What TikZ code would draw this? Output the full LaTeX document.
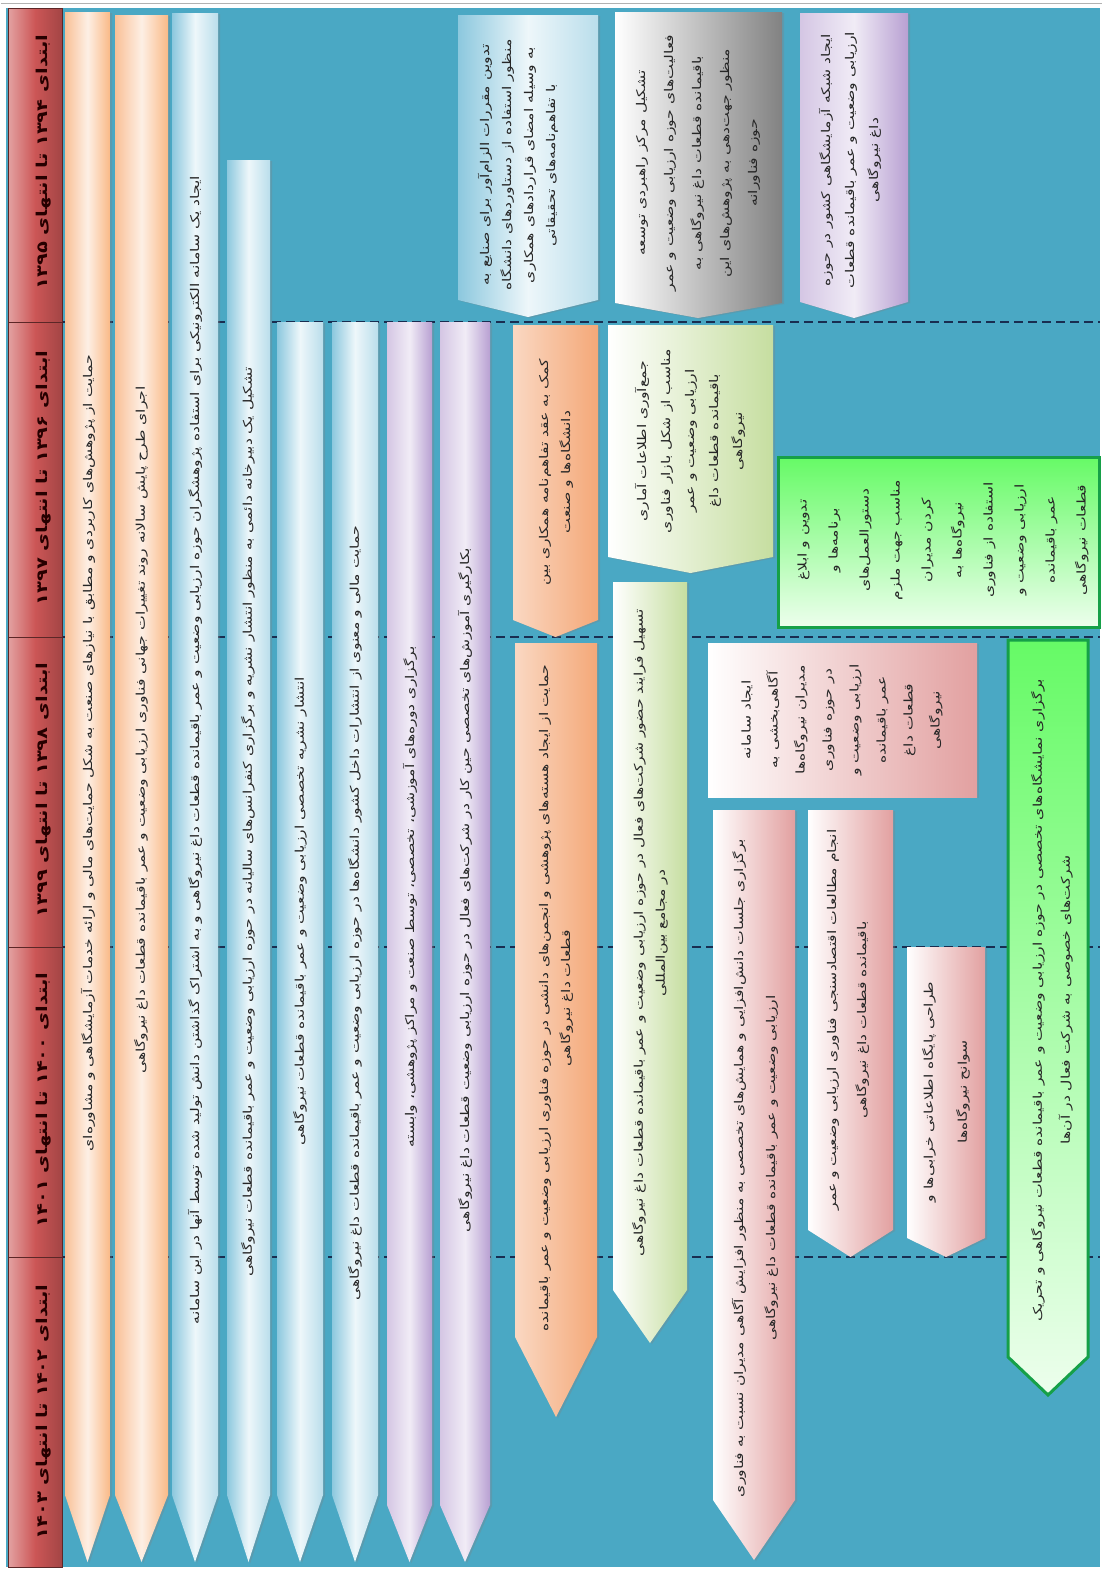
\documentclass[tikz,border=0pt]{standalone}
\usepackage{fontspec}
\usetikzlibrary{shadows}
\newfontfamily\farsi[Script=Arabic,FakeStretch=1.3]{DejaVu Sans}
\TeXXeTstate=1
\newcommand{\fa}[1]{\beginR #1\endR}
\definecolor{bgteal}{RGB}{74,168,196}
\definecolor{hdrred}{RGB}{204,86,86}
\definecolor{peach}{RGB}{249,192,150}
\definecolor{skyb}{RGB}{140,200,222}
\definecolor{lilac}{RGB}{184,160,210}
\definecolor{orng}{RGB}{244,168,120}
\definecolor{pgreen}{RGB}{198,222,160}
\definecolor{pinkr}{RGB}{226,160,160}
\definecolor{lime}{RGB}{102,250,102}
\definecolor{dgreen}{RGB}{22,160,72}
\definecolor{grayb}{RGB}{130,130,130}
\definecolor{dashc}{RGB}{25,45,80}

\begin{document}
\begin{tikzpicture}[x=1pt,y=-1pt,
  lbl/.style={rotate=90,align=center,inner sep=0pt,text=black!85,font=\farsi\fontsize{12}{#1}\selectfont},
  lbl/.default=22,
  hlbl/.style={rotate=90,inner sep=0pt,text=black!85!red,font=\farsi\bfseries\fontsize{15}{18}\selectfont},
  hdr/.style={draw=hdrred!45!black,left color=hdrred!55!white,right color=hdrred!80!black,middle color=hdrred},
  bar/.style={drop shadow={shadow xshift=2pt,shadow yshift=-1pt,opacity=0.3}},
  peachbar/.style={bar,left color=peach,right color=peach!90!orange,middle color=peach!25!white},
  bluebar/.style={bar,left color=skyb,right color=skyb!60!white,middle color=skyb!15!white},
  lilacbar/.style={bar,left color=lilac!60!white,right color=lilac,middle color=lilac!20!white},
  orangebar/.style={bar,left color=orng!45!white,right color=orng},
  greenbar/.style={bar,left color=white,right color=pgreen},
  pinkbar/.style={bar,left color=white,right color=pinkr},
  graybar/.style={bar,left color=white,right color=grayb},
  limebar/.style={draw=dgreen,line width=3pt,top color=lime,bottom color=lime!12!white},
  sep/.style={dashc,line width=1.3pt,dash pattern=on 9pt off 5pt}]

\useasboundingbox (0,0) rectangle (1103,1574);
\fill[white] (0,0) rectangle (1103,1574);
\draw[gray!60] (1,3) -- (1102,3);
\fill[bgteal] (6,8) rectangle (1100,1567);

% separators between the periods
\draw[sep] (62,322) -- (1100,322);
\draw[sep] (62,637) -- (1100,637);
\draw[sep] (62,947) -- (1100,947);
\draw[sep] (62,1257) -- (1100,1257);

% period headers
\path[hdr] (8,8) rectangle (62,322);
\path[hdr] (8,322) rectangle (62,637);
\path[hdr] (8,637) rectangle (62,947);
\path[hdr] (8,947) rectangle (62,1257);
\path[hdr] (8,1257) rectangle (62,1567);
\node[hlbl] (H1) at (44,162) {\fa{ابتدای ۱۳۹۴ تا انتهای ۱۳۹۵}};
\node[hlbl] (H2) at (44,478) {\fa{ابتدای ۱۳۹۶ تا انتهای ۱۳۹۷}};
\node[hlbl] (H3) at (44,790) {\fa{ابتدای ۱۳۹۸ تا انتهای ۱۳۹۹}};
\node[hlbl] (H4) at (44,1100) {\fa{ابتدای ۱۴۰۰ تا انتهای ۱۴۰۱}};
\node[hlbl] (H5) at (44,1412) {\fa{ابتدای ۱۴۰۲ تا انتهای ۱۴۰۳}};

% long arrows
\path[peachbar] (65,12) -- (110,12) -- (110,1495) -- (87.5,1562) -- (65,1495) -- cycle;
\path[peachbar] (115,15) -- (168,15) -- (168,1495) -- (141.5,1562) -- (115,1495) -- cycle;
\path[bluebar] (172,13) -- (218,13) -- (218,1495) -- (195,1562) -- (172,1495) -- cycle;
\path[bluebar] (227,160) -- (270,160) -- (270,1495) -- (248.5,1562) -- (227,1495) -- cycle;
\path[bluebar] (277,322) -- (323,322) -- (323,1495) -- (300,1562) -- (277,1495) -- cycle;
\path[bluebar] (332,322) -- (378,322) -- (378,1495) -- (355,1562) -- (332,1495) -- cycle;
\path[lilacbar] (387,322) -- (432,322) -- (432,1505) -- (409.5,1562) -- (387,1505) -- cycle;
\path[lilacbar] (440,322) -- (490,322) -- (490,1505) -- (465,1562) -- (440,1505) -- cycle;

\node[lbl] (A1) at (88,753) {\fa{حمایت از پژوهش‌های کاربردی و مطابق با نیازهای صنعت به شکل حمایت‌های مالی و ارائه خدمات آزمایشگاهی و مشاوره‌ای}};
\node[lbl] (A2) at (141,730) {\fa{اجرای طرح پایش سالانه روند تغییرات جهانی فناوری ارزیابی وضعیت و عمر باقیمانده قطعات داغ نیروگاهی}};
\node[lbl] (A3) at (195,750) {\fa{ایجاد یک سامانه الکترونیکی برای استفاده پژوهشگران حوزه ارزیابی وضعیت و عمر باقیمانده قطعات داغ نیروگاهی و به اشتراک گذاشتن دانش تولید شده توسط آنها در این سامانه}};
\node[lbl] (A4) at (248,822) {\fa{تشکیل یک دبیرخانه دائمی به منظور انتشار نشریه و برگزاری کنفرانس‌های سالیانه در حوزه ارزیابی وضعیت و عمر باقیمانده قطعات نیروگاهی}};
\node[lbl] (A5) at (300,911) {\fa{انتشار نشریه تخصصی ارزیابی وضعیت و عمر باقیمانده قطعات نیروگاهی}};
\node[lbl] (A6) at (355,913) {\fa{حمایت مالی و معنوی از انتشارات داخل کشور دانشگاه‌ها در حوزه ارزیابی وضعیت و عمر باقیمانده قطعات داغ نیروگاهی}};
\node[lbl] (A7) at (410,897) {\fa{برگزاری دوره‌های آموزشی، تخصصی، توسط صنعت و مراکز پژوهشی، وابسته}};
\node[lbl] (A8) at (465,890) {\fa{بکارگیری آموزش‌های تخصصی حین کار در شرکت‌های فعال در حوزه ارزیابی وضعیت قطعات داغ نیروگاهی}};

% first period
\path[bluebar] (458,15) -- (598,15) -- (598,300) -- (528,317) -- (458,300) -- cycle;
\path[graybar] (615,12) -- (782,12) -- (782,303) -- (698,318) -- (615,303) -- cycle;
\path[lilacbar] (800,13) -- (908,13) -- (908,302) -- (854,318) -- (800,302) -- cycle;
\node[lbl] (B1) at (518,165) {\fa{تدوین مقررات الزام‌آور برای صنایع به}\\\fa{منظور استفاده از دستاوردهای دانشگاه}\\\fa{به وسیله امضای قراردادهای همکاری}\\\fa{با تفاهم‌نامه‌های تحقیقاتی}};
\node[lbl=28] (B2) at (698,163) {\fa{تشکیل مرکز راهبردی توسعه}\\\fa{فعالیت‌های حوزه ارزیابی وضعیت و عمر}\\\fa{باقیمانده قطعات داغ نیروگاهی به}\\\fa{منظور جهت‌دهی به پژوهش‌های این}\\\fa{حوزه فناورانه}};
\node[lbl=24] (B3) at (850,160) {\fa{ایجاد شبکه آزمایشگاهی کشور در حوزه}\\\fa{ارزیابی وضعیت و عمر باقیمانده قطعات}\\\fa{داغ نیروگاهی}};

% second and later periods
\path[orangebar] (513,325) -- (598,325) -- (598,620) -- (555.5,637) -- (513,620) -- cycle;
\path[greenbar] (608,325) -- (773,325) -- (773,557) -- (690.5,573) -- (608,557) -- cycle;
\path[orangebar] (515,643) -- (597,643) -- (597,1337) -- (556,1417) -- (515,1337) -- cycle;
\path[greenbar] (613,582) -- (687,582) -- (687,1290) -- (650,1343) -- (613,1290) -- cycle;
\node[lbl] (C1) at (556,472) {\fa{کمک به عقد تفاهم‌نامه همکاری بین}\\\fa{دانشگاه‌ها و صنعت}};
\node[lbl=24] (C2) at (690,441) {\fa{جمع‌آوری اطلاعات آماری}\\\fa{مناسب از شکل بازار فناوری}\\\fa{ارزیابی وضعیت و عمر}\\\fa{باقیمانده قطعات داغ}\\\fa{نیروگاهی}};
\node[lbl] (C3) at (556,998) {\fa{حمایت از ایجاد هسته‌های پژوهشی و انجمن‌های دانشی در حوزه فناوری ارزیابی وضعیت و عمر باقیمانده}\\\fa{قطعات داغ نیروگاهی}};
\node[lbl] (C4) at (650,933) {\fa{تسهیل فرایند حضور شرکت‌های فعال در حوزه ارزیابی وضعیت و عمر باقیمانده قطعات داغ نیروگاهی}\\\fa{در مجامع بین‌المللی}};

\path[limebar] (778,457) rectangle (1099,627);
\node[lbl=31] (D1) at (943,540) {\fa{تدوین و ابلاغ}\\\fa{برنامه‌ها و}\\\fa{دستورالعمل‌های}\\\fa{مناسب جهت ملزم}\\\fa{کردن مدیران}\\\fa{نیروگاه‌ها به}\\\fa{استفاده از فناوری}\\\fa{ارزیابی وضعیت و}\\\fa{عمر باقیمانده}\\\fa{قطعات نیروگاهی}};

\path[pinkbar] (708,643) rectangle (977,797);
\node[lbl=27] (D2) at (842,720) {\fa{ایجاد سامانه}\\\fa{آگاهی‌بخشی به}\\\fa{مدیران نیروگاه‌ها}\\\fa{در حوزه فناوری}\\\fa{ارزیابی وضعیت و}\\\fa{عمر باقیمانده}\\\fa{قطعات داغ}\\\fa{نیروگاهی}};

\path[pinkbar] (713,810) -- (795,810) -- (795,1500) -- (754,1560) -- (713,1500) -- cycle;
\path[pinkbar] (808,810) -- (893,810) -- (893,1230) -- (850.5,1257) -- (808,1230) -- cycle;
\path[pinkbar] (907,947) -- (985,947) -- (985,1238) -- (946,1257) -- (907,1238) -- cycle;
\path[limebar] (1008,640) -- (1088,640) -- (1088,1357) -- (1048,1395) -- (1008,1357) -- cycle;
\node[lbl=32] (D3) at (755,1168) {\fa{برگزاری جلسات دانش‌افزایی و همایش‌های تخصصی به منظور افزایش آگاهی مدیران نسبت به فناوری}\\\fa{ارزیابی وضعیت و عمر باقیمانده قطعات داغ نیروگاهی}};
\node[lbl=30] (D4) at (848,1020) {\fa{انجام مطالعات اقتصادسنجی فناوری ارزیابی وضعیت و عمر}\\\fa{باقیمانده قطعات داغ نیروگاهی}};
\node[lbl=34] (D5) at (946,1092) {\fa{طراحی پایگاه اطلاعاتی خرابی‌ها و}\\\fa{سوانح نیروگاه‌ها}};
\node[lbl=28] (D6) at (1052,1000) {\fa{برگزاری نمایشگاه‌های تخصصی در حوزه ارزیابی وضعیت و عمر باقیمانده قطعات نیروگاهی و تحریک}\\\fa{شرکت‌های خصوصی به شرکت فعال در آن‌ها}};
\end{tikzpicture}
\end{document}
